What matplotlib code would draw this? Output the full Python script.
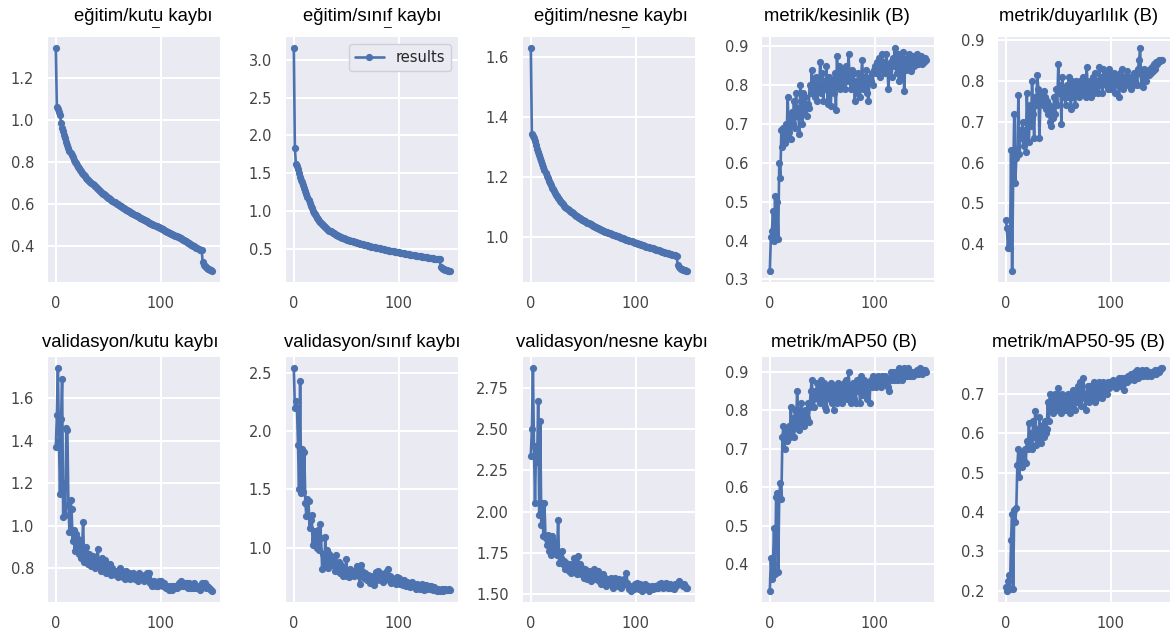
import numpy as np
import matplotlib
matplotlib.use('Agg')
import matplotlib.pyplot as plt
from matplotlib.ticker import MultipleLocator
import seaborn as sns

# Values, one per epoch (0..149)
train_box = [
    1.340, 1.060, 1.050, 1.035, 1.020, 0.985, 0.960, 0.945, 0.925, 0.910,
    0.895, 0.880, 0.865, 0.852, 0.840, 0.830, 0.820, 0.810, 0.800, 0.792,
    0.784, 0.776, 0.769, 0.762, 0.755, 0.748, 0.742, 0.736, 0.730, 0.724,
    0.718, 0.713, 0.707, 0.702, 0.697, 0.692, 0.687, 0.682, 0.677, 0.672,
    0.668, 0.664, 0.660, 0.656, 0.652, 0.648, 0.644, 0.640, 0.636, 0.632,
    0.628, 0.625, 0.621, 0.617, 0.614, 0.610, 0.607, 0.603, 0.600, 0.596,
    0.593, 0.590, 0.587, 0.584, 0.581, 0.578, 0.575, 0.572, 0.569, 0.566,
    0.563, 0.560, 0.557, 0.554, 0.551, 0.548, 0.545, 0.542, 0.539, 0.536,
    0.533, 0.530, 0.527, 0.525, 0.522, 0.520, 0.517, 0.515, 0.512, 0.510,
    0.507, 0.505, 0.502, 0.500, 0.497, 0.495, 0.492, 0.490, 0.487, 0.485,
    0.482, 0.480, 0.477, 0.475, 0.472, 0.470, 0.467, 0.465, 0.462, 0.460,
    0.457, 0.455, 0.452, 0.450, 0.447, 0.445, 0.442, 0.440, 0.437, 0.435,
    0.432, 0.429, 0.426, 0.423, 0.420, 0.417, 0.414, 0.411, 0.408, 0.405,
    0.402, 0.399, 0.396, 0.393, 0.390, 0.387, 0.384, 0.381, 0.379, 0.377,
    0.320, 0.308, 0.301, 0.297, 0.293, 0.290, 0.287, 0.284, 0.282, 0.280,
]

train_cls = [
    3.150, 1.840, 1.620, 1.600, 1.560, 1.510, 1.460, 1.420, 1.390, 1.350,
    1.310, 1.270, 1.230, 1.190, 1.150, 1.110, 1.070, 1.040, 1.010, 0.985,
    0.960, 0.938, 0.918, 0.898, 0.880, 0.864, 0.848, 0.833, 0.818, 0.805,
    0.792, 0.780, 0.769, 0.758, 0.748, 0.738, 0.729, 0.720, 0.712, 0.704,
    0.696, 0.689, 0.682, 0.675, 0.669, 0.663, 0.657, 0.651, 0.646, 0.640,
    0.635, 0.630, 0.625, 0.620, 0.616, 0.611, 0.607, 0.602, 0.598, 0.594,
    0.590, 0.586, 0.582, 0.578, 0.574, 0.570, 0.567, 0.563, 0.559, 0.556,
    0.552, 0.549, 0.545, 0.542, 0.538, 0.535, 0.532, 0.528, 0.525, 0.522,
    0.519, 0.516, 0.513, 0.510, 0.507, 0.504, 0.501, 0.498, 0.495, 0.492,
    0.489, 0.486, 0.483, 0.480, 0.477, 0.474, 0.471, 0.468, 0.466, 0.463,
    0.460, 0.457, 0.455, 0.452, 0.449, 0.447, 0.444, 0.442, 0.439, 0.437,
    0.434, 0.432, 0.429, 0.427, 0.424, 0.422, 0.420, 0.417, 0.415, 0.413,
    0.410, 0.408, 0.406, 0.403, 0.401, 0.399, 0.397, 0.394, 0.392, 0.390,
    0.388, 0.386, 0.384, 0.381, 0.379, 0.377, 0.375, 0.373, 0.371, 0.369,
    0.265, 0.250, 0.242, 0.236, 0.232, 0.228, 0.225, 0.222, 0.220, 0.218,
]

train_obj = [
    1.630, 1.345, 1.338, 1.330, 1.320, 1.308, 1.295, 1.283, 1.272, 1.262,
    1.252, 1.242, 1.232, 1.222, 1.213, 1.204, 1.196, 1.188, 1.180, 1.172,
    1.165, 1.159, 1.153, 1.147, 1.141, 1.136, 1.131, 1.126, 1.121, 1.117,
    1.113, 1.109, 1.105, 1.101, 1.097, 1.094, 1.091, 1.088, 1.085, 1.082,
    1.079, 1.076, 1.074, 1.071, 1.069, 1.066, 1.064, 1.062, 1.060, 1.058,
    1.056, 1.054, 1.052, 1.050, 1.048, 1.046, 1.044, 1.042, 1.040, 1.038,
    1.036, 1.034, 1.033, 1.031, 1.029, 1.028, 1.026, 1.024, 1.023, 1.021,
    1.020, 1.018, 1.017, 1.015, 1.014, 1.013, 1.011, 1.010, 1.008, 1.007,
    1.006, 1.004, 1.003, 1.002, 1.000, 0.999, 0.998, 0.996, 0.995, 0.994,
    0.993, 0.991, 0.990, 0.989, 0.988, 0.986, 0.985, 0.984, 0.983, 0.981,
    0.980, 0.979, 0.978, 0.977, 0.975, 0.974, 0.973, 0.972, 0.971, 0.970,
    0.968, 0.967, 0.966, 0.965, 0.964, 0.963, 0.962, 0.960, 0.959, 0.958,
    0.957, 0.956, 0.955, 0.954, 0.953, 0.951, 0.950, 0.949, 0.948, 0.947,
    0.946, 0.945, 0.944, 0.943, 0.942, 0.941, 0.940, 0.939, 0.938, 0.937,
    0.905, 0.899, 0.896, 0.894, 0.892, 0.891, 0.890, 0.889, 0.888, 0.887,
]

precision = [
    0.322, 0.410, 0.425, 0.475, 0.400, 0.515, 0.410, 0.500, 0.405, 0.600,
    0.560, 0.685, 0.640, 0.690, 0.650, 0.700, 0.660, 0.770, 0.680, 0.720,
    0.660, 0.730, 0.700, 0.760, 0.690, 0.780, 0.720, 0.740, 0.675, 0.800,
    0.760, 0.700, 0.780, 0.730, 0.770, 0.720, 0.750, 0.740, 0.800, 0.780,
    0.840, 0.790, 0.810, 0.770, 0.820, 0.760, 0.800, 0.790, 0.860, 0.780,
    0.830, 0.760, 0.810, 0.790, 0.850, 0.750, 0.820, 0.790, 0.745, 0.800,
    0.810, 0.780, 0.830, 0.735, 0.875, 0.800, 0.850, 0.790, 0.840, 0.820,
    0.800, 0.830, 0.790, 0.850, 0.810, 0.880, 0.820, 0.790, 0.840, 0.800,
    0.830, 0.760, 0.810, 0.780, 0.830, 0.800, 0.770, 0.820, 0.865, 0.790,
    0.820, 0.800, 0.840, 0.780, 0.760, 0.820, 0.810, 0.830, 0.800, 0.840,
    0.850, 0.830, 0.860, 0.840, 0.870, 0.820, 0.850, 0.880, 0.840, 0.860,
    0.830, 0.880, 0.850, 0.790, 0.840, 0.860, 0.820, 0.870, 0.850, 0.895,
    0.860, 0.830, 0.880, 0.810, 0.850, 0.870, 0.820, 0.885, 0.785, 0.860,
    0.840, 0.870, 0.850, 0.880, 0.860, 0.835, 0.875, 0.850, 0.870, 0.860,
    0.880, 0.855, 0.870, 0.860, 0.875, 0.855, 0.865, 0.860, 0.870, 0.865,
]

recall = [
    0.460, 0.440, 0.390, 0.430, 0.390, 0.630, 0.335, 0.560, 0.720, 0.550,
    0.610, 0.630, 0.765, 0.620, 0.680, 0.660, 0.700, 0.640, 0.680, 0.625,
    0.770, 0.700, 0.650, 0.740, 0.690, 0.800, 0.720, 0.660, 0.760, 0.740,
    0.815, 0.780, 0.660, 0.750, 0.770, 0.740, 0.775, 0.760, 0.730, 0.750,
    0.720, 0.740, 0.700, 0.690, 0.730, 0.710, 0.760, 0.720, 0.780, 0.740,
    0.840, 0.770, 0.790, 0.695, 0.810, 0.760, 0.780, 0.740, 0.790, 0.760,
    0.810, 0.770, 0.730, 0.800, 0.760, 0.790, 0.740, 0.800, 0.770, 0.790,
    0.760, 0.800, 0.780, 0.770, 0.810, 0.790, 0.760, 0.835, 0.790, 0.770,
    0.800, 0.760, 0.790, 0.810, 0.770, 0.820, 0.780, 0.800, 0.770, 0.835,
    0.790, 0.810, 0.770, 0.830, 0.800, 0.790, 0.820, 0.780, 0.830, 0.800,
    0.780, 0.810, 0.790, 0.820, 0.770, 0.800, 0.810, 0.790, 0.760, 0.820,
    0.790, 0.830, 0.780, 0.810, 0.800, 0.825, 0.790, 0.810, 0.800, 0.780,
    0.810, 0.790, 0.820, 0.800, 0.815, 0.790, 0.830, 0.850, 0.880, 0.790,
    0.820, 0.785, 0.830, 0.810, 0.800, 0.825, 0.815, 0.830, 0.820, 0.835,
    0.825, 0.840, 0.830, 0.845, 0.840, 0.845, 0.850, 0.848, 0.852, 0.850,
]

val_box = [
    1.370, 1.520, 1.740, 1.400, 1.150, 1.500, 1.690, 1.040, 1.200, 1.050,
    1.460, 1.450, 1.100, 0.970, 1.120, 1.080, 0.930, 0.980, 0.880, 0.960,
    0.900, 0.940, 0.870, 0.920, 0.850, 0.890, 1.020, 0.830, 0.880, 0.900,
    0.840, 0.820, 0.870, 0.850, 0.810, 0.860, 0.830, 0.800, 0.840, 0.820,
    0.890, 0.810, 0.830, 0.790, 0.850, 0.820, 0.800, 0.840, 0.780, 0.820,
    0.800, 0.790, 0.820, 0.770, 0.800, 0.790, 0.780, 0.770, 0.790, 0.760,
    0.780, 0.800, 0.770, 0.790, 0.760, 0.780, 0.750, 0.790, 0.770, 0.760,
    0.780, 0.750, 0.770, 0.760, 0.780, 0.750, 0.770, 0.760, 0.740, 0.780,
    0.760, 0.770, 0.750, 0.760, 0.740, 0.770, 0.750, 0.780, 0.760, 0.780,
    0.730, 0.740, 0.720, 0.730, 0.740, 0.720, 0.730, 0.720, 0.740, 0.730,
    0.740, 0.730, 0.720, 0.730, 0.720, 0.710, 0.720, 0.710, 0.700, 0.720,
    0.710, 0.700, 0.720, 0.710, 0.720, 0.710, 0.720, 0.730, 0.720, 0.740,
    0.720, 0.730, 0.720, 0.730, 0.720, 0.730, 0.710, 0.730, 0.720, 0.710,
    0.720, 0.710, 0.730, 0.720, 0.710, 0.720, 0.710, 0.700, 0.720, 0.730,
    0.720, 0.720, 0.730, 0.710, 0.720, 0.715, 0.710, 0.705, 0.700, 0.695,
]

val_cls = [
    2.540, 2.200, 2.260, 2.200, 1.880, 1.500, 2.430, 1.470, 1.850, 1.480,
    1.820, 1.380, 1.270, 1.420, 1.400, 1.170, 1.240, 1.280, 1.020, 1.140,
    1.050, 1.100, 1.000, 1.150, 0.980, 1.200, 1.080, 0.820, 0.950, 0.850,
    1.090, 0.880, 0.980, 0.830, 0.950, 0.900, 0.850, 0.920, 0.870, 0.800,
    0.940, 0.860, 0.800, 0.880, 0.780, 0.850, 0.800, 0.760, 0.830, 0.780,
    0.900, 0.760, 0.800, 0.750, 0.820, 0.790, 0.770, 0.760, 0.800, 0.780,
    0.840, 0.790, 0.760, 0.690, 0.850, 0.800, 0.760, 0.740, 0.780, 0.750,
    0.720, 0.770, 0.740, 0.700, 0.760, 0.730, 0.680, 0.750, 0.790, 0.720,
    0.800, 0.740, 0.780, 0.720, 0.770, 0.710, 0.760, 0.730, 0.790, 0.740,
    0.820, 0.720, 0.760, 0.700, 0.740, 0.710, 0.730, 0.690, 0.750, 0.710,
    0.740, 0.690, 0.720, 0.700, 0.680, 0.720, 0.690, 0.670, 0.710, 0.680,
    0.700, 0.660, 0.690, 0.710, 0.670, 0.680, 0.650, 0.690, 0.660, 0.680,
    0.650, 0.670, 0.690, 0.660, 0.640, 0.670, 0.680, 0.650, 0.660, 0.670,
    0.650, 0.670, 0.660, 0.640, 0.660, 0.650, 0.630, 0.650, 0.640, 0.630,
    0.640, 0.650, 0.630, 0.640, 0.650, 0.640, 0.635, 0.640, 0.645, 0.640,
]

val_obj = [
    2.340, 2.500, 2.870, 2.400, 2.050, 2.400, 2.300, 2.670, 1.980, 2.550,
    1.920, 2.050, 1.850, 2.050, 1.840, 1.800, 1.860, 1.760, 1.820, 1.740,
    1.850, 1.780, 1.820, 1.750, 1.800, 1.740, 1.950, 1.690, 1.750, 1.720,
    1.760, 1.680, 1.700, 1.650, 1.690, 1.660, 1.640, 1.680, 1.630, 1.670,
    1.650, 1.720, 1.640, 1.680, 1.620, 1.730, 1.650, 1.680, 1.620, 1.660,
    1.640, 1.600, 1.650, 1.620, 1.590, 1.640, 1.610, 1.580, 1.620, 1.600,
    1.650, 1.590, 1.620, 1.600, 1.640, 1.580, 1.610, 1.560, 1.600, 1.620,
    1.570, 1.600, 1.550, 1.590, 1.580, 1.560, 1.600, 1.570, 1.540, 1.590,
    1.600, 1.560, 1.580, 1.550, 1.590, 1.570, 1.540, 1.580, 1.560, 1.590,
    1.560, 1.630, 1.570, 1.550, 1.530, 1.520, 1.550, 1.540, 1.530, 1.560,
    1.540, 1.570, 1.550, 1.530, 1.560, 1.540, 1.520, 1.550, 1.530, 1.560,
    1.540, 1.530, 1.550, 1.520, 1.540, 1.550, 1.530, 1.540, 1.550, 1.540,
    1.550, 1.540, 1.560, 1.550, 1.570, 1.560, 1.540, 1.560, 1.550, 1.570,
    1.560, 1.540, 1.550, 1.560, 1.540, 1.550, 1.530, 1.560, 1.550, 1.560,
    1.570, 1.580, 1.570, 1.560, 1.560, 1.550, 1.560, 1.550, 1.540, 1.540,
]

map50 = [
    0.330, 0.415, 0.360, 0.400, 0.495, 0.375, 0.575, 0.585, 0.380, 0.580,
    0.610, 0.570, 0.730, 0.760, 0.700, 0.750, 0.720, 0.740, 0.760, 0.730,
    0.810, 0.750, 0.780, 0.730, 0.800, 0.760, 0.850, 0.780, 0.750, 0.800,
    0.820, 0.770, 0.790, 0.760, 0.800, 0.780, 0.820, 0.770, 0.810, 0.850,
    0.880, 0.830, 0.810, 0.850, 0.840, 0.870, 0.830, 0.860, 0.820, 0.880,
    0.850, 0.830, 0.870, 0.810, 0.800, 0.860, 0.840, 0.830, 0.870, 0.820,
    0.850, 0.800, 0.860, 0.840, 0.820, 0.870, 0.830, 0.850, 0.860, 0.820,
    0.840, 0.870, 0.850, 0.880, 0.830, 0.900, 0.860, 0.820, 0.850, 0.870,
    0.830, 0.860, 0.820, 0.880, 0.850, 0.870, 0.820, 0.890, 0.840, 0.860,
    0.880, 0.850, 0.870, 0.830, 0.860, 0.820, 0.880, 0.860, 0.890, 0.870,
    0.880, 0.860, 0.870, 0.890, 0.870, 0.880, 0.860, 0.890, 0.870, 0.880,
    0.890, 0.870, 0.880, 0.860, 0.850, 0.900, 0.880, 0.890, 0.900, 0.880,
    0.890, 0.900, 0.880, 0.910, 0.890, 0.900, 0.880, 0.900, 0.910, 0.890,
    0.900, 0.890, 0.910, 0.900, 0.890, 0.900, 0.890, 0.900, 0.895, 0.900,
    0.905, 0.895, 0.900, 0.910, 0.900, 0.895, 0.905, 0.900, 0.905, 0.900,
]

map50_95 = [
    0.210, 0.200, 0.225, 0.240, 0.205, 0.330, 0.395, 0.205, 0.405, 0.375,
    0.410, 0.520, 0.560, 0.490, 0.550, 0.515, 0.540, 0.530, 0.560, 0.525,
    0.580, 0.560, 0.625, 0.575, 0.600, 0.560, 0.630, 0.590, 0.655, 0.570,
    0.610, 0.580, 0.640, 0.600, 0.575, 0.620, 0.590, 0.630, 0.600, 0.610,
    0.680, 0.630, 0.700, 0.660, 0.690, 0.650, 0.680, 0.700, 0.660, 0.690,
    0.715, 0.670, 0.690, 0.650, 0.700, 0.680, 0.660, 0.690, 0.670, 0.700,
    0.680, 0.650, 0.700, 0.670, 0.710, 0.690, 0.660, 0.700, 0.680, 0.720,
    0.690, 0.730, 0.670, 0.700, 0.740, 0.690, 0.660, 0.700, 0.720, 0.680,
    0.720, 0.690, 0.710, 0.700, 0.730, 0.680, 0.720, 0.690, 0.710, 0.730,
    0.700, 0.720, 0.690, 0.730, 0.710, 0.720, 0.700, 0.730, 0.715, 0.725,
    0.730, 0.720, 0.735, 0.720, 0.730, 0.715, 0.730, 0.725, 0.740, 0.720,
    0.730, 0.740, 0.725, 0.710, 0.740, 0.730, 0.745, 0.735, 0.740, 0.750,
    0.740, 0.750, 0.735, 0.755, 0.745, 0.760, 0.740, 0.750, 0.755, 0.745,
    0.760, 0.745, 0.755, 0.750, 0.760, 0.745, 0.755, 0.750, 0.745, 0.755,
    0.750, 0.755, 0.760, 0.750, 0.755, 0.760, 0.755, 0.760, 0.765, 0.765,
]

titles = ['eğitim/kutu kaybı', 'eğitim/sınıf kaybı', 'eğitim/nesne kaybı',
          'metrik/kesinlik (B)', 'metrik/duyarlılık (B)',
          'validasyon/kutu kaybı', 'validasyon/sınıf kaybı',
          'validasyon/nesne kaybı', 'metrik/mAP50 (B)', 'metrik/mAP50-95 (B)']
series = [train_box, train_cls, train_obj, precision, recall,
          val_box, val_cls, val_obj, map50, map50_95]

sns.set_theme(style='darkgrid')
plt.rcParams['font.family'] = ['DejaVu Sans']

W, H = 1173.0, 639.0
fig = plt.figure(figsize=(W / 100, H / 100), dpi=100)

# axes boxes in pixels, measured on the reference
lefts = [48, 286, 523, 762, 998]
tops = [37, 357]
aw, ah = 172, 245
title_pads = [11.5, 7.5]
# the titles are not quite centred over their axes in the reference
title_dx = [9.5, 0, 2, -11, -5, -4, 0, 3, -4, -6]

for i, (vals, title) in enumerate(zip(series, titles)):
    r, c = divmod(i, 5)
    ax = fig.add_axes([lefts[c] / W, (H - tops[r] - ah) / H, aw / W, ah / H])
    epochs = np.arange(len(vals))
    ax.plot(epochs, vals, marker='o', markersize=5.2, markeredgewidth=0,
            linewidth=1.9, color='#4c72b0', label='results')
    ax.set_title(title, fontsize=13.3, family=['Liberation Sans'],
                 color='black', pad=title_pads[r], x=0.5 + title_dx[i] / aw)
    ax.set_xticks([0, 100])
    if i == 7:
        ax.yaxis.set_major_locator(MultipleLocator(0.25))
    ax.tick_params(labelsize=10.5, pad=10, length=0, labelcolor='#444444')
    ax.grid(color='white', linewidth=1.5)
    for s in ax.spines.values():
        s.set_visible(False)
    if i == 1:
        ax.legend(loc='upper right', fontsize=10.5, facecolor='#eaeaf2',
                  edgecolor='#d0d0d8', framealpha=1.0)

# leftover dashes visible just under the top-row titles
for x in [155, 387, 625]:
    fig.text(x / W, 1 - 27.5 / H, '¯', fontsize=10, ha='center', va='top',
             family=['Liberation Sans'], color='#222222')

fig.savefig('out.png', dpi=100)
